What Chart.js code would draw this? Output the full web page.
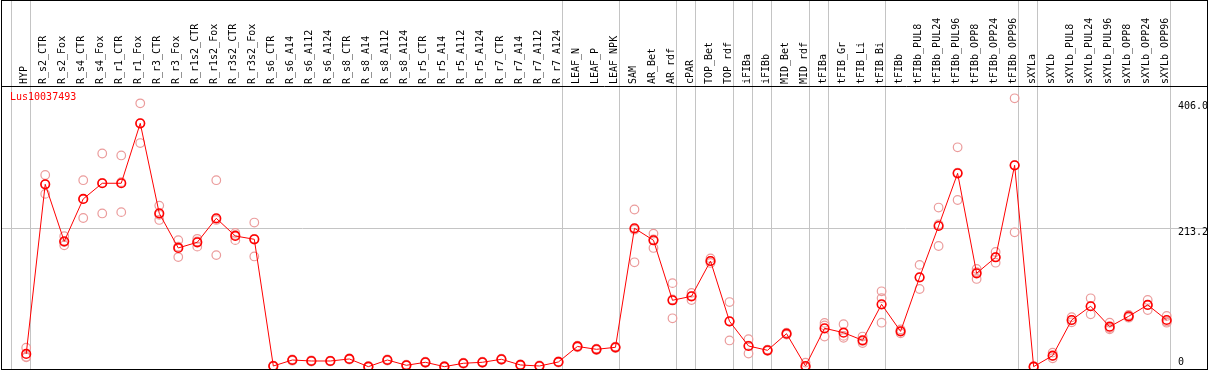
<!DOCTYPE html>
<html>
<head>
<meta charset="utf-8">
<script src="https://cdn.jsdelivr.net/npm/chart.js@4.4.1/dist/chart.umd.min.js"></script>
<style>
  html, body { margin: 0; padding: 0; background: #fff; }
  #wrap { width: 1209px; height: 370px; position: relative; }
</style>
</head>
<body>
<div id="wrap"><canvas id="geneChart"></canvas></div>
<script>
const geneName = 'Lus10037493';

const categories = [
  'HYP', 'R_s2_CTR', 'R_s2_Fox', 'R_s4_CTR', 'R_s4_Fox', 'R_r1_CTR', 'R_r1_Fox',
  'R_r3_CTR', 'R_r3_Fox', 'R_r1s2_CTR', 'R_r1s2_Fox', 'R_r3s2_CTR', 'R_r3s2_Fox',
  'R_s6_CTR', 'R_s6_A14', 'R_s6_A112', 'R_s6_A124', 'R_s8_CTR', 'R_s8_A14', 'R_s8_A112', 'R_s8_A124',
  'R_r5_CTR', 'R_r5_A14', 'R_r5_A112', 'R_r5_A124', 'R_r7_CTR', 'R_r7_A14', 'R_r7_A112', 'R_r7_A124',
  'LEAF_N', 'LEAF_P', 'LEAF_NPK', 'SAM', 'AR_Bet', 'AR_rdf', 'cPAR', 'TOP_Bet', 'TOP_rdf',
  'iFIBa', 'iFIBb', 'MID_Bet', 'MID_rdf', 'tFIBa', 'tFIB_Gr', 'tFIB_Li', 'tFIB_Bi', 'tFIBb',
  'tFIBb_PUL8', 'tFIBb_PUL24', 'tFIBb_PUL96', 'tFIBb_OPP8', 'tFIBb_OPP24', 'tFIBb_OPP96',
  'sXYLa', 'sXYLb', 'sXYLb_PUL8', 'sXYLb_PUL24', 'sXYLb_PUL96', 'sXYLb_OPP8', 'sXYLb_OPP24', 'sXYLb_OPP96'
];

// mean expression per sample
const means = [
  20.3, 280.7, 193.2, 258.2, 282.3, 282.3, 374.3, 236.2, 183.0, 191.7, 228.5, 201.4, 196.3,
  1.8, 11.0, 9.5, 9.5, 12.6, 0.8, 11.0, 2.9, 7.5, 0.8, 6.0, 7.5, 12.1, 3.4, 1.8, 8.0,
  31.8, 27.4, 30.5, 213.2, 194.8, 102.7, 108.8, 163.0, 70.4, 32.5, 25.9, 51.4, 1.8,
  59.7, 53.0, 41.3, 96.5, 55.0, 138.0, 216.7, 297.6, 144.1, 168.7, 309.9,
  0.8, 17.7, 72.4, 93.5, 62.2, 78.1, 95.5, 72.4
];

// individual replicates
const rep1 = [
  30, 295, 201, 287, 328, 325, 405, 248, 195, 197, 287, 206, 222,
  2.5, 12, 10.5, 10.2, 13.5, 1.5, 12, 3.8, 8.4, 1.4, 6.9, 8.3, 13, 4.2, 2.6, 8.9,
  33, 28.5, 31.6, 242, 205, 129, 114, 167, 100, 43, 27, 53, 7,
  68, 66, 47, 116.5, 58, 157, 245, 337.5, 150.7, 176.8, 412.7,
  1.3, 22.3, 76.6, 105.7, 68.3, 80.1, 103.1, 78.6
];
const rep2 = [
  15, 266, 187, 229, 236, 238, 344, 226, 169, 185, 172, 195, 170,
  1.0, 10, 8.6, 8.8, 11.8, 0.2, 10.1, 2.1, 6.7, 0.3, 5.2, 6.8, 11.3, 2.6, 1.1, 7.2,
  30.5, 26.3, 29.4, 161, 183, 75, 103, 160, 41, 21, 25, 50, 0,
  47, 45, 40, 68.3, 52, 120, 186, 256.6, 135.4, 160.4, 207,
  0.3, 13.7, 68.9, 81.2, 58.2, 76, 87.8, 68.3
];
const rep3 = [
  16, 281, 192, 258, 283, 284, 374, 234, 185, 193, 226, 203, 197,
  1.9, 11, 9.4, 9.5, 12.5, 0.7, 10.9, 2.8, 7.4, 0.7, 5.9, 7.4, 12, 3.4, 1.7, 7.9,
  31.9, 27.4, 30.5, 211, 196, 104, 109, 163, 70, 33, 26, 51, 0,
  64, 48, 37, 106, 55, 137.5, 219, 298.7, 146, 169, 310,
  0.8, 17, 72, 93.5, 60, 78, 95.5, 70
];

const yTickValues = [0, 213.2, 406.0];
const yTickLabels = ['0', '213.2', '406.0'];

// grey separators drawn just after these sample indices
const groupBreaks = [-1, 0, 28, 31, 34, 35, 37, 38, 39, 41, 42, 45, 52, 53, 60];

const monoFont = 'DejaVu Sans Mono';
const lineRed = '#ff0000';
const repPink = '#eb9c9c';

const toPoints = arr => arr.map((v, i) => ({ x: i, y: v }));

const noPad = s => {
  s.paddingLeft = 0; s.paddingRight = 0; s.paddingTop = 0; s.paddingBottom = 0;
};

const framePlugin = {
  id: 'frame',
  beforeDatasetsDraw(chart) {
    const { ctx, chartArea, scales } = chart;
    ctx.save();
    ctx.strokeStyle = '#c4c4c4';
    ctx.lineWidth = 1;
    groupBreaks.forEach(i => {
      const px = Math.round(scales.x.getPixelForValue(i + 0.19)) + 0.5;
      ctx.beginPath();
      ctx.moveTo(px, 0);
      ctx.lineTo(px, chartArea.bottom);
      ctx.stroke();
    });
    ctx.restore();
  },
  afterDraw(chart) {
    const { ctx, chartArea } = chart;
    ctx.save();
    ctx.strokeStyle = '#000';
    ctx.lineWidth = 1;
    ctx.strokeRect(1.5, 0.5, chartArea.right - 1, chartArea.bottom);
    ctx.beginPath();
    ctx.moveTo(1, chartArea.top + 0.5);
    ctx.lineTo(chartArea.right + 1, chartArea.top + 0.5);
    ctx.stroke();
    ctx.fillStyle = lineRed;
    ctx.font = '10px "' + monoFont + '"';
    ctx.textBaseline = 'middle';
    ctx.fillText(geneName, chartArea.left + 9, chartArea.top + 11);
    ctx.restore();
  }
};

new Chart(document.getElementById('geneChart'), {
  type: 'line',
  data: {
    datasets: [
      {
        label: 'mean',
        data: toPoints(means),
        borderColor: lineRed,
        borderWidth: 1,
        pointRadius: 4.3,
        pointBorderWidth: 1.6,
        pointBorderColor: lineRed,
        pointBackgroundColor: 'transparent',
        tension: 0
      },
      ...[rep1, rep2, rep3].map((r, k) => ({
        label: 'rep' + (k + 1),
        data: toPoints(r),
        showLine: false,
        pointRadius: 4.3,
        pointBorderWidth: 1.2,
        pointBorderColor: repPink,
        pointBackgroundColor: 'transparent'
      }))
    ]
  },
  options: {
    responsive: true,
    maintainAspectRatio: false,
    animation: false,
    layout: { autoPadding: false, padding: { left: 1, right: 2, top: 0, bottom: 1 } },
    plugins: {
      legend: { display: false },
      tooltip: { enabled: false }
    },
    scales: {
      x: {
        type: 'linear',
        position: 'top',
        min: -1.326,
        max: 62.12,
        afterBuildTicks: s => { s.ticks = categories.map((c, i) => ({ value: i })); },
        afterFit: s => { s.height = 86; noPad(s); },
        grid: { display: false, drawTicks: false },
        border: { display: false },
        ticks: {
          autoSkip: false,
          minRotation: 90,
          maxRotation: 90,
          padding: 2,
          labelOffset: 10.5,
          color: '#000',
          font: { family: monoFont, size: 10 },
          callback: v => categories[v]
        }
      },
      y: {
        type: 'linear',
        position: 'right',
        min: -2.8,
        max: 431.6,
        afterBuildTicks: s => { s.ticks = yTickValues.map(v => ({ value: v })); },
        afterFit: s => { s.width = 0; noPad(s); },
        grid: {
          drawTicks: false,
          color: c => (c.tick && c.tick.value === 213.2 ? '#c4c4c4' : 'transparent')
        },
        border: { display: false },
        ticks: {
          mirror: true,
          crossAlign: 'far',
          padding: 1,
          labelOffset: 4,
          color: '#000',
          font: { family: monoFont, size: 10, lineHeight: 1.7 },
          callback: v => {
            const lbl = yTickLabels[yTickValues.indexOf(v)];
            return v === 0 ? [lbl, ''] : lbl;
          }
        }
      }
    }
  },
  plugins: [framePlugin]
});
</script>
</body>
</html>
